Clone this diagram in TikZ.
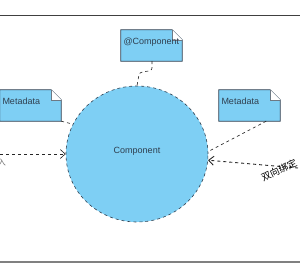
\documentclass[tikz,border=0pt]{standalone}
\usepackage{fontspec}
\setmainfont{Liberation Sans}
\newfontfamily\cjk{Noto Sans CJK SC}
\usetikzlibrary{arrows.meta,shapes.geometric}
\definecolor{notefill}{HTML}{7ECFF4}
\definecolor{edge}{HTML}{2F3F4F}
\tikzset{
  notebox/.style={draw=none, fill=none, minimum width=61pt, minimum height=31pt, inner sep=0pt},
  dashlink/.style={draw=black!85, dashed, line width=0.6pt},
  lbl/.style={font=\fontsize{9}{11}\selectfont, text=edge, inner sep=0pt},
}
\newcommand{\mynote}[2]{%
  \fill[notefill] (#1.north west) -- ([xshift=-10pt]#1.north east) -- ([yshift=-10pt]#1.north east) -- (#1.south east) -- (#1.south west) -- cycle;
  \draw[edge, line width=0.8pt] (#1.north west) -- ([xshift=-10pt]#1.north east) -- ([yshift=-10pt]#1.north east) -- (#1.south east) -- (#1.south west) -- cycle;
  \fill[white] ([xshift=-10pt]#1.north east) -- ([xshift=-10pt,yshift=-10pt]#1.north east) -- ([yshift=-10pt]#1.north east) -- cycle;
  \draw[edge!70, line width=0.5pt] ([xshift=-10pt]#1.north east) -- ([xshift=-10pt,yshift=-10pt]#1.north east) -- ([yshift=-10pt]#1.north east);
  \node[lbl, anchor=base west] at ([xshift=2.5pt,yshift=-14.5pt]#1.north west) {#2};
}
\begin{document}
\begin{tikzpicture}[x=1pt,y=-1pt]
\useasboundingbox (0,0) rectangle (300,263);
\clip (0,0) rectangle (300,263);
% frame lines
\draw[black!75, line width=0.8pt] (0,15) -- (300,15);
\draw[black!50, line width=2pt] (0,261.5) -- (300,261.5);
% component circle
\node[ellipse, draw=edge, dashed, fill=notefill, minimum width=142pt, minimum height=136pt, inner sep=0pt, line width=0.6pt] (comp) at (137,154) {};
\node[lbl] at (137,151) {Component};
% notes
\node[notebox] (anno) at (151.5,45.5) {};
\mynote{anno}{@Component}
\node[notebox] (mdl) at (30.5,105.5) {};
\mynote{mdl}{Metadata}
\node[notebox] (mdr) at (249.5,105.5) {};
\mynote{mdr}{Metadata}
% connectors
\coordinate (t1) at (152,68);
\coordinate (t2) at (139,75);
\draw[dashlink] (anno.south) ++(0.5,0) -- (t1) .. controls (152,73) and (139,70) .. (t2) -- (comp.north);
\draw[dashlink] (mdl.south east) -- (comp.155);
\draw[dashlink] ([xshift=-14pt]mdr.south east) -- (comp.2);
\coordinate (lin) at (0,154);
\draw[dashlink, -{Straight Barb[length=5pt,width=9pt]}] (lin) -- (comp.west);
\node[text=black!55, font=\cjk\fontsize{8}{9}\selectfont, anchor=east, inner sep=0pt] (lt) at (6,162) {注入};
\coordinate (rin) at (298,168);
\draw[dashlink, line width=0.9pt, -{Straight Barb[length=5pt,width=9pt]}] (rin) -- (comp.-5);
\node[font=\cjk\fontsize{9.5}{11}\selectfont, rotate=25, inner sep=0pt] (rl) at (279,170.5) {双向绑定};
\end{tikzpicture}
\end{document}
